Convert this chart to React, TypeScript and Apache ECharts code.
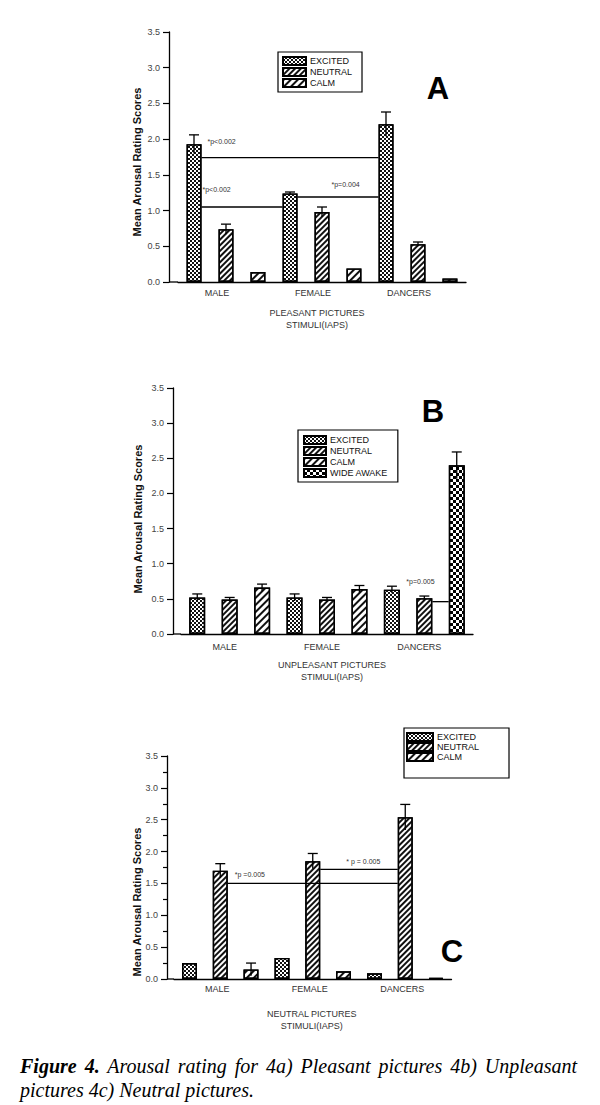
import React, { useEffect, useRef } from "react";
import * as echarts from "echarts";

const groups = ["MALE", "FEMALE", "DANCERS"];
const yTicks = [0, 0.5, 1, 1.5, 2, 2.5, 3, 3.5];

// Panel A - pleasant pictures
const aExcited = [1.93, 1.24, 2.21];
const aExcitedErr = [0.13, 0.02, 0.17];
const aNeutral = [0.74, 0.98, 0.53];
const aNeutralErr = [0.07, 0.07, 0.03];
const aCalm = [0.14, 0.19, 0.05];
const aCalmErr = [0, 0, 0];

// Panel B - unpleasant pictures
const bExcited = [0.52, 0.52, 0.63];
const bExcitedErr = [0.05, 0.05, 0.05];
const bNeutral = [0.49, 0.49, 0.51];
const bNeutralErr = [0.03, 0.03, 0.03];
const bCalm = [0.66, 0.64, null];
const bCalmErr = [0.05, 0.05, null];
const bWide = [null, null, 2.4];
const bWideErr = [null, null, 0.19];

// Panel C - neutral pictures
const cExcited = [0.25, 0.33, 0.09];
const cExcitedErr = [0, 0, 0];
const cNeutral = [1.7, 1.85, 2.54];
const cNeutralErr = [0.11, 0.12, 0.2];
const cCalm = [0.15, 0.12, 0.02];
const cCalmErr = [0.1, 0, 0];

// significance annotations: [group, slot]
const aNotes = [
  { from: [0, 0], to: [2, 0], y: 1.74, label: "*p<0.002", dx: 6, dy: -16 },
  { from: [0, 0], to: [1, 0], y: 1.05, label: "*p<0.002", dx: 1, dy: -18 },
  { from: [1, 0], to: [2, 0], y: 1.19, label: "*p=0.004", dx: 34, dy: -13 },
];
const bNotes = [
  { from: [2, 1], to: [2, 2], y: 0.46, label: "*p=0.005", dx: -26, dy: -20 },
];
const cNotes = [
  { from: [0, 1], to: [2, 1], y: 1.5, label: "*p =0.005", dx: 7, dy: -9 },
  { from: [1, 1], to: [2, 1], y: 1.72, label: "* p = 0.005", dx: 26, dy: -8 },
];

const FONT = "Liberation Sans, Arial, sans-serif";

const decalExcited = {
  symbol: "rect", symbolSize: 1,
  dashArrayX: [[2, 2], [0, 2, 2, 0]], dashArrayY: [2, 0],
  color: "#111", rotation: 0,
};
const decalNeutral = {
  symbol: "rect", symbolSize: 1,
  dashArrayX: [1, 0], dashArrayY: [2, 2],
  color: "#111", rotation: -Math.PI / 4,
};
const decalCalm = {
  symbol: "rect", symbolSize: 1,
  dashArrayX: [1, 0], dashArrayY: [2, 3],
  color: "#111", rotation: -Math.PI / 4,
};
const decalWide = {
  symbol: "rect", symbolSize: 1,
  dashArrayX: [[3, 3], [0, 3, 3, 0]], dashArrayY: [3, 0],
  color: "#000", rotation: 0,
};

type SeriesCfg = {
  name: string;
  data: (number | null)[];
  err: (number | null)[];
  decal: any;
  slot: number;
  stack?: string;
};

function buildOption(cfg: any) {
  const {
    series, spacing, barWidth, barGap, grid, yOffset, xName, nameGap, namePad,
    labelPad, labelMargin, legend, notes, letter, yTitle, minor, stub,
  } = cfg;
  const s: any[] = [];
  (series as SeriesCfg[]).forEach((sc) => {
    s.push({
      type: "bar",
      name: sc.name,
      stack: sc.stack,
      barWidth,
      barGap,
      data: sc.data.map((v) => (v == null ? "-" : v)),
      itemStyle: { color: "#fff", borderColor: "#000", borderWidth: 1.4, decal: sc.decal },
      emphasis: { disabled: true },
      z: 2,
    });
  });
  (series as SeriesCfg[]).forEach((sc) => {
    const d = sc.data
      .map((v, i) => (v == null || !sc.err[i] ? null : [i, v, sc.err[i]]))
      .filter(Boolean);
    if (!d.length) return;
    s.push({
      type: "custom",
      data: d,
      encode: { x: 0, y: 1 },
      z: 5,
      silent: true,
      itemStyle: { color: "#000" },
      renderItem: (params: any, api: any) => {
        const cat = api.value(0), mean = api.value(1), err = api.value(2);
        const c = api.coord([cat, mean]);
        const x = c[0] + (sc.slot - 1) * spacing;
        const top = api.coord([cat, mean + err])[1];
        const bot = api.coord([cat, mean - err])[1];
        return {
          type: "group",
          children: [
            { type: "line", shape: { x1: x, y1: bot, x2: x, y2: top }, style: { stroke: "#000", lineWidth: 1.3 } },
            { type: "line", shape: { x1: x - 5, y1: top, x2: x + 5, y2: top }, style: { stroke: "#000", lineWidth: 1.3 } },
          ],
        };
      },
    });
  });
  s.push({
    type: "custom",
    data: notes.map((n: any) => [n.from[0], n.y]),
    encode: { x: 0, y: 1 },
    z: 6,
    silent: true,
    itemStyle: { color: "#333" },
    renderItem: (params: any, api: any) => {
      const n = notes[params.dataIndex];
      const p1 = api.coord([n.from[0], n.y]);
      const p2 = api.coord([n.to[0], n.y]);
      const x1 = p1[0] + (n.from[1] - 1) * spacing + barWidth / 2;
      const x2 = p2[0] + (n.to[1] - 1) * spacing - barWidth / 2;
      return {
        type: "group",
        children: [
          { type: "line", shape: { x1, y1: p1[1], x2, y2: p1[1] }, style: { stroke: "#000", lineWidth: 1.3 } },
          {
            type: "text", x: x1 + n.dx, y: p1[1] + n.dy,
            style: { text: n.label, fontSize: 7, fontFamily: FONT, fill: "#333", textFill: "#333", verticalAlign: "middle" },
          },
        ],
      };
    },
  });

  return {
    animation: false,
    textStyle: { fontFamily: FONT },
    grid: { ...grid, containLabel: false },
    legend: {
      orient: "vertical",
      left: legend.left,
      top: legend.top,
      data: legend.data,
      icon: "rect",
      itemWidth: legend.itemWidth,
      itemHeight: 8,
      itemGap: legend.gap,
      padding: legend.padding,
      borderColor: "#000",
      borderWidth: 1.2,
      selectedMode: false,
      textStyle: { fontSize: 9, color: "#111", fontFamily: FONT, padding: [0, 0, 0, -1] },
    },
    xAxis: {
      type: "category",
      data: groups,
      axisLine: { show: true, lineStyle: { color: "#000", width: 1.3 } },
      axisTick: { show: false },
      axisLabel: { fontSize: 9, color: "#333", margin: labelMargin, padding: labelPad },
      name: xName,
      nameLocation: "middle",
      nameGap,
      nameTextStyle: { fontSize: 9, color: "#333", lineHeight: 12, padding: namePad },
      splitLine: { show: false },
    },
    yAxis: {
      type: "value",
      min: 0,
      max: 3.5,
      interval: 0.5,
      offset: yOffset,
      axisLine: { show: true, lineStyle: { color: "#000", width: 1.3 } },
      axisTick: { show: true, length: 6, lineStyle: { color: "#000", width: 1.2 } },
      minorTick: minor
        ? { show: true, splitNumber: 2, length: 4, lineStyle: { color: "#000", width: 1.2 } }
        : { show: false },
      axisLabel: {
        fontSize: 9, color: "#444", margin: 9,
        formatter: (v: number) => (yTicks.indexOf(v) >= 0 ? v.toFixed(1) : ""),
      },
      splitLine: { show: false },
    },
    graphic: [
      {
        type: "text",
        x: yTitle.x, y: yTitle.y, rotation: Math.PI / 2,
        style: {
          text: "Mean Arousal Rating Scores", fontSize: 11, fontWeight: "bold",
          fontFamily: FONT, fill: "#111", align: "center", verticalAlign: "middle",
        },
      },
      {
        type: "text",
        x: letter.x, y: letter.y,
        style: {
          text: letter.text, fontSize: 31, fontWeight: "bold", fontFamily: FONT,
          fill: "#000", align: "center", verticalAlign: "middle",
        },
      },
      {
        type: "line",
        shape: { x1: stub.x1, y1: stub.y, x2: stub.x2, y2: stub.y },
        style: { stroke: "#000", lineWidth: 1.3 },
      },
    ],
    series: s,
  };
}

const optionA = buildOption({
  series: [
    { name: "EXCITED", data: aExcited, err: aExcitedErr, decal: decalExcited, slot: 0 },
    { name: "NEUTRAL", data: aNeutral, err: aNeutralErr, decal: decalNeutral, slot: 1 },
    { name: "CALM", data: aCalm, err: aCalmErr, decal: decalCalm, slot: 2 },
  ],
  spacing: 32, barWidth: 15, barGap: "113%",
  grid: { left: 178, top: 32, width: 288, height: 250 },
  yOffset: 9,
  xName: "PLEASANT PICTURES\nSTIMULI(IAPS)", nameGap: 25, namePad: [0, 10, 0, 0],
  labelPad: [0, 18, 0, 0], labelMargin: 6,
  legend: { left: 278, top: 52, data: ["EXCITED", "NEUTRAL", "CALM"], itemWidth: 23, gap: 1, padding: [4, 10, 4, 4] },
  notes: aNotes,
  letter: { text: "A", x: 438, y: 88 },
  yTitle: { x: 137, y: 162 },
  minor: false,
  stub: { x1: 169, x2: 178, y: 282 },
});

const optionB = buildOption({
  series: [
    { name: "EXCITED", data: bExcited, err: bExcitedErr, decal: decalExcited, slot: 0 },
    { name: "NEUTRAL", data: bNeutral, err: bNeutralErr, decal: decalNeutral, slot: 1 },
    { name: "CALM", data: bCalm, err: bCalmErr, decal: decalCalm, slot: 2, stack: "cw" },
    { name: "WIDE AWAKE", data: bWide, err: bWideErr, decal: decalWide, slot: 2, stack: "cw" },
  ],
  spacing: 32.4, barWidth: 16, barGap: "103%",
  grid: { left: 181, top: 38, width: 292, height: 246 },
  yOffset: 8,
  xName: "UNPLEASANT PICTURES\nSTIMULI(IAPS)", nameGap: 25, namePad: [0, 0, 0, 10],
  labelPad: [0, 10, 0, 0], labelMargin: 8,
  legend: { left: 298, top: 80, data: ["EXCITED", "NEUTRAL", "CALM", "WIDE AWAKE"], itemWidth: 22, gap: 1, padding: [5, 10, 4, 5] },
  notes: bNotes,
  letter: { text: "B", x: 433, y: 61 },
  yTitle: { x: 138, y: 169 },
  minor: false,
  stub: { x1: 173, x2: 181, y: 284 },
});

const optionC = buildOption({
  series: [
    { name: "EXCITED", data: cExcited, err: cExcitedErr, decal: decalExcited, slot: 0 },
    { name: "NEUTRAL", data: cNeutral, err: cNeutralErr, decal: decalNeutral, slot: 1 },
    { name: "CALM", data: cCalm, err: cCalmErr, decal: decalCalm, slot: 2 },
  ],
  spacing: 30.8, barWidth: 15, barGap: "105%",
  grid: { left: 174, top: 56, width: 277.5, height: 223 },
  yOffset: 7,
  xName: "NEUTRAL PICTURES\nSTIMULI(IAPS)", nameGap: 29, namePad: [0, 2, 0, 0],
  labelPad: [0, 6, 0, 0], labelMargin: 5,
  legend: { left: 404, top: 28, data: ["EXCITED", "NEUTRAL", "CALM"], itemWidth: 26, gap: 0, padding: [4, 30, 16, 2] },
  notes: cNotes,
  letter: { text: "C", x: 452, y: 251 },
  yTitle: { x: 137, y: 202 },
  minor: true,
  stub: { x1: 167, x2: 174, y: 279 },
});

function Panel({ option, top, height }: { option: any; top: number; height: number }) {
  const ref = useRef<HTMLDivElement>(null);
  useEffect(() => {
    const chart = echarts.init(ref.current as HTMLDivElement, null, { renderer: "svg" });
    chart.setOption(option);
    return () => chart.dispose();
  }, [option]);
  return <div ref={ref} style={{ position: "absolute", left: 0, top, width: 600, height }} />;
}

export default function App() {
  return (
    <div style={{ position: "absolute", left: 0, top: 0, width: 600, height: 1105, background: "#fff", overflow: "hidden" }}>
      <Panel option={optionA} top={0} height={345} />
      <Panel option={optionB} top={350} height={345} />
      <Panel option={optionC} top={700} height={340} />
      <div
        style={{
          position: "absolute", left: 20, top: 1054, width: 557,
          fontFamily: "Liberation Serif, Times New Roman, serif", fontStyle: "italic",
          fontSize: 20, lineHeight: "24px", color: "#000",
        }}
      >
        <div style={{ textAlign: "justify", textAlignLast: "justify" } as any}>
          <b>Figure 4.</b> Arousal rating for 4a) Pleasant pictures 4b) Unpleasant
        </div>
        <div>pictures 4c) Neutral pictures.</div>
      </div>
    </div>
  );
}
